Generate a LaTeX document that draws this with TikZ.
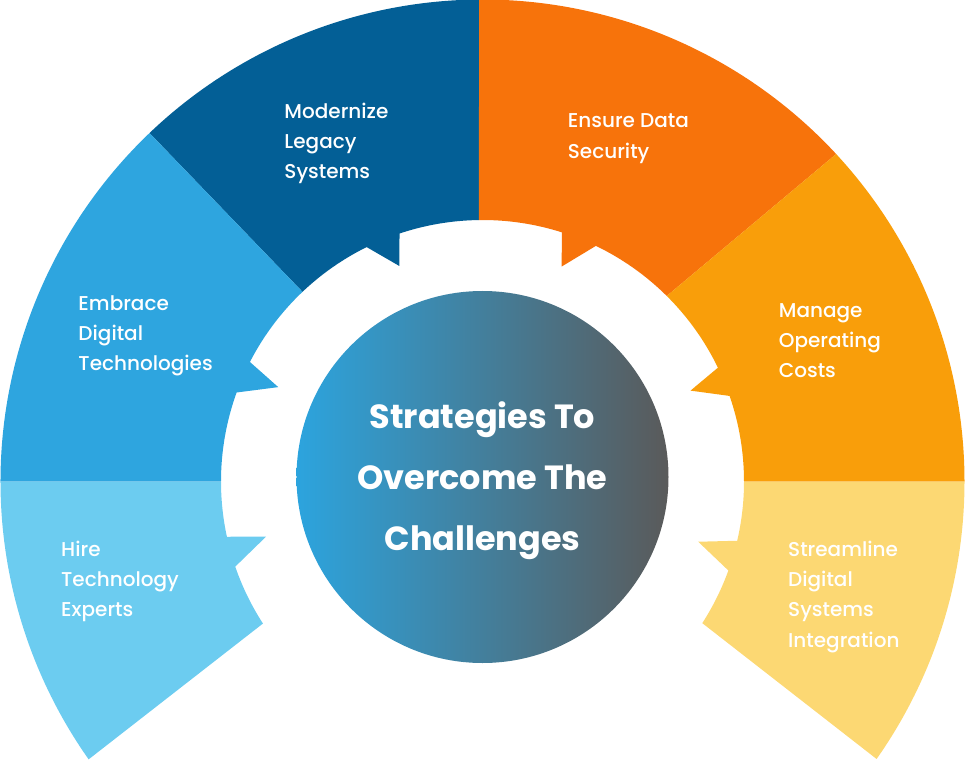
\documentclass[tikz,border=0pt]{standalone}
\usepackage{fontspec}
\setmainfont{Poppins}
\newfontfamily\labelfont{Poppins Medium}
\usetikzlibrary{shapes.geometric}

\definecolor{modernize}{RGB}{3,95,150}
\definecolor{embrace}{RGB}{46,165,223}
\definecolor{hire}{RGB}{108,204,240}
\definecolor{security}{RGB}{247,115,11}
\definecolor{costs}{RGB}{249,158,10}
\definecolor{integration}{RGB}{252,216,115}
\definecolor{coreleft}{RGB}{44,164,222}
\definecolor{coreright}{RGB}{90,90,90}

\def\Rout{482pt}
\def\Rin{261.5pt}
% colour, outer from/to, inner from/to, tooth: upper corner, tip, lower corner
\newcommand\ringpart[8]{%
  \fill[#1] (#2:\Rout) arc[start angle=#2, end angle=#3, radius=\Rout]
    -- (#5:\Rin) arc[start angle=#5, end angle=#6, radius=\Rin]
    -- (#7) -- (#8:\Rin) arc[start angle=#8, end angle=#4, radius=\Rin] -- cycle;}

\tikzset{
  itemtext/.style={anchor=base west, align=left, inner sep=0pt, text=white,
    font=\labelfont\fontsize{20}{30.3}\selectfont},
}

\begin{document}
\begin{tikzpicture}[x=1pt, y=1pt]
  \useasboundingbox (-482.5,-278.5) rectangle (482.5,481.5);

  \ringpart{modernize}{90.4}{133.7}{90.8}{133.5}{116.3}{111.1:231pt}{108.5}
  \ringpart{embrace}{133.7}{180}{133.5}{180}{160.1}{155.2:225pt}{152.8}
  \ringpart{hire}{180}{215.2}{180}{212.9}{199.0}{194.3:223.4pt}{192.2}
  \ringpart{security}{42.8}{90.4}{45.2}{90.8}{72.3}{69.8:229pt}{64.3}
  \ringpart{costs}{0}{42.8}{0}{45.2}{25.8}{23.6:227pt}{19.1}
  \ringpart{integration}{-35.15}{0}{-32.8}{0}{-13.1}{-15.6:224pt}{-19.9}

  \node[circle, minimum size=372pt, inner sep=0pt,
    left color=coreleft, right color=coreright, shading=axis]
    (core) at (0,4.5) {};
  \node[align=center, text=white, font=\bfseries\fontsize{33.5}{61}\selectfont]
    (title) at ([yshift=-3.5pt]core.center) {Strategies To\\Overcome The\\Challenges};

  % base = last line
  \node[itemtext] (modern) at (-198.2,302.5) {Modernize\\Legacy\\Systems};
  \node[itemtext] (secure) at (85.2,323.2) {Ensure Data\\Security};
  \node[itemtext] (digital) at (-404.2,110.5) {Embrace\\Digital\\Technologies};
  \node[itemtext] (costs) at (296.2,103.8) {Manage\\Operating\\Costs};
  \node[itemtext] (experts) at (-421.5,-135.4) {Hire\\Technology\\Experts};
  \node[itemtext] (systems) at (305.5,-165.7) {Streamline\\Digital\\Systems\\Integration};
\end{tikzpicture}
\end{document}
